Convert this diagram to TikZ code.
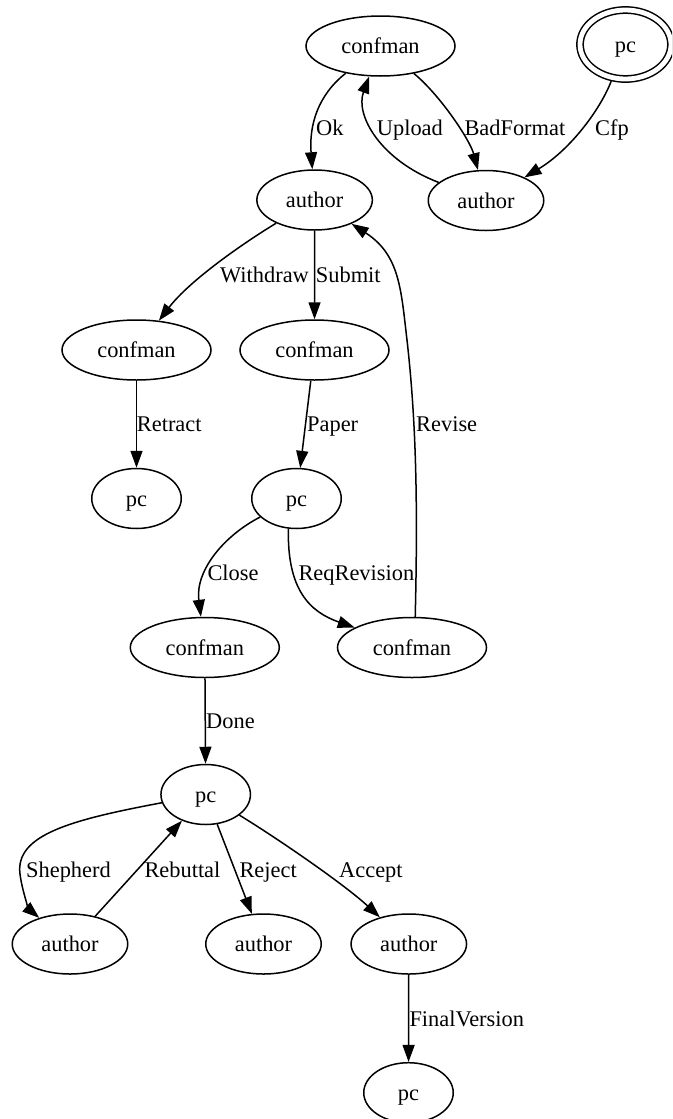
\documentclass[tikz,border=0pt]{standalone}
\usepackage{fontspec}
\setmainfont{Liberation Serif}
\usetikzlibrary{shapes.geometric,arrows.meta}

\begin{document}
\begin{tikzpicture}[x=1pt,y=-1pt,
  txt/.style={font=\fontsize{22.4}{26}\selectfont},
  gnode/.style={ellipse, draw, line width=1.5pt, inner sep=0pt,
                text height=15.3pt, text depth=0pt,
                minimum height=60pt, txt},
  confmannode/.style={gnode, minimum width=149pt},
  authornode/.style={gnode, minimum width=115.5pt},
  pcnode/.style={gnode, minimum width=89.5pt},
  startnode/.style={gnode, double, double distance=4.8pt,
                    minimum width=91pt, minimum height=69pt, outer sep=3.8pt},
  edge/.style={line width=1.5pt, -{Triangle[length=17pt,width=12pt]}},
  lbl/.style={anchor=base west, inner sep=0pt, txt}]

\clip (0,0) rectangle (672,1119);

% states
\node[confmannode] (c1) at (380.5,46)   {confman};
\node[startnode]   (p0) at (625.5,44.5) {pc};
\node[authornode]  (a1) at (314.6,200)  {author};
\node[authornode]  (a0) at (486,200.5)  {author};
\node[confmannode] (c2) at (136.5,350)  {confman};
\node[confmannode] (c3) at (314.5,350)  {confman};
\node[pcnode]      (p1) at (136.5,498.5) {pc};
\node[pcnode]      (p2) at (296.5,498.5) {pc};
\node[confmannode] (c4) at (204.8,647.5) {confman};
\node[confmannode] (c5) at (412,647.5)  {confman};
\node[pcnode]      (p3) at (205.7,794.5) {pc};
\node[authornode]  (a2) at (70,944)     {author};
\node[authornode]  (a3) at (263.5,944)  {author};
\node[authornode]  (a4) at (408.8,944)  {author};
\node[pcnode]      (p4) at (408.5,1092.7) {pc};

% transitions
\draw[edge] (c1) .. controls (318,95) and (309,125) .. (a1);
\draw[edge] (a0) .. controls (380,160) and (355,115) .. (c1);
\draw[edge] (c1) .. controls (440,95) and (470,140) .. (a0);
\draw[edge] (p0) .. controls (600,110) and (570,150) .. (a0);
\draw[edge] (a1) .. controls (245,242) and (190,280) .. (c2);
\draw[edge] (a1) -- (c3);
\draw[edge] (c2) -- (p1);
\draw[edge] (c3) -- (p2);
\draw[edge] (c5.84) .. controls (418,500) and (416,420) .. (407,340)
            .. controls (401,290) and (400,255) .. (a1);
\draw[edge] (p2) .. controls (225,535) and (195,570) .. (c4);
\draw[edge] (p2.255) .. controls (287,590) and (310,612) .. (c5);
\draw[edge] (c4) -- (p3);
\draw[edge] (p3) .. controls (70,820) and (15,835) .. (20,874)
            .. controls (22.5,893.5) and (30,910) .. (a2);
\draw[edge] (a2) -- (p3);
\draw[edge] (p3) -- (a3);
\draw[edge] (p3) .. controls (280,840) and (345,885) .. (a4);
\draw[edge] (a4) -- (p4);

% transition labels
\node[lbl] (lok)  at (316,135)     {Ok};
\node[lbl] (lup)  at (376.7,135)   {Upload};
\node[lbl] (lbad) at (464.3,135)   {BadFormat};
\node[lbl] (lcfp) at (595,135)     {Cfp};
\node[lbl] (lwd)  at (220,282)     {Withdraw};
\node[lbl] (lsub) at (315.7,282)   {Submit};
\node[lbl] (lret) at (136.7,431.5) {Retract};
\node[lbl] (lpap) at (307,431.5)   {Paper};
\node[lbl] (lrev) at (416,431.5)   {Revise};
\node[lbl] (lcl)  at (207.3,580.5) {Close};
\node[lbl] (lreq) at (298.3,580.5) {ReqRevision};
\node[lbl] (ldone) at (206,728.5)  {Done};
\node[lbl] (lsh)  at (26,877)      {Shepherd};
\node[lbl] (lreb) at (144.3,877)   {Rebuttal};
\node[lbl] (lrej) at (239.3,877)   {Reject};
\node[lbl] (lacc) at (339,877)     {Accept};
\node[lbl] (lfin) at (409.3,1026.5) {FinalVersion};
\end{tikzpicture}
\end{document}
